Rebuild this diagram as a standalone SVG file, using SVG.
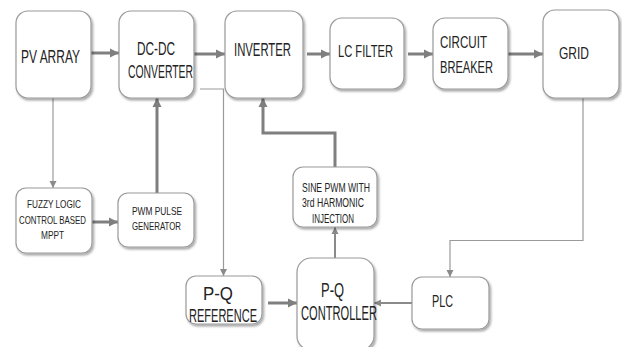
<svg xmlns="http://www.w3.org/2000/svg" width="622" height="347" viewBox="0 0 622 347">
<defs>
<filter id="sh" x="-20%" y="-20%" width="140%" height="140%">
<feDropShadow dx="1.5" dy="2" stdDeviation="1.3" flood-color="#000" flood-opacity="0.35"/>
</filter>
<marker id="ah" markerUnits="userSpaceOnUse" markerWidth="10" markerHeight="10" refX="9" refY="5" orient="auto">
<path d="M0,0.5 L9,5 L0,9.5 Z" fill="#7f7f7f"/>
</marker>
<marker id="as" markerUnits="userSpaceOnUse" markerWidth="8" markerHeight="8" refX="7" refY="4" orient="auto">
<path d="M0,0.5 L7,4 L0,7.5 Z" fill="#8a8a8a"/>
</marker>
</defs>
<style>
.box{fill:#fff;stroke:#9a9a9a;stroke-width:1.2;filter:url(#sh)}
.t{font-family:"Liberation Sans",Arial,sans-serif;fill:#222}
.thick{fill:none;stroke:#7f7f7f;stroke-width:3}
.mid{fill:none;stroke:#8a8a8a;stroke-width:2}
.thin{fill:none;stroke:#9a9a9a;stroke-width:1.2}
</style>
<rect width="622" height="347" fill="#fff"/>
<g id="connectors">
<line class="thick" x1="91" y1="53" x2="119" y2="53" marker-end="url(#ah)"/>
<line class="thick" x1="194" y1="54" x2="225" y2="54" marker-end="url(#ah)"/>
<line class="thick" x1="307" y1="54" x2="330" y2="54" marker-end="url(#ah)"/>
<line class="thick" x1="408" y1="54" x2="433" y2="54" marker-end="url(#ah)"/>
<line class="thick" x1="508" y1="54" x2="543" y2="54" marker-end="url(#ah)"/>
<polyline class="thin" points="200,89 223.5,89 223.5,276" marker-end="url(#as)"/>
<line class="thin" x1="53" y1="98" x2="53" y2="188" marker-end="url(#as)"/>
<line class="thick" x1="92" y1="222" x2="118" y2="222" marker-end="url(#ah)"/>
<line class="thick" x1="157" y1="193" x2="157" y2="98" marker-end="url(#ah)"/>
<line class="thick" x1="268" y1="303" x2="297" y2="303" marker-end="url(#ah)"/>
<line class="mid" x1="335" y1="258" x2="335" y2="227" marker-end="url(#as)"/>
<polyline class="thick" points="335,167 335,133 263,133 263,98" marker-end="url(#ah)"/>
<polyline class="thin" points="583,98 583,240.5 450,240.5 450,277" marker-end="url(#as)"/>
<line class="mid" x1="412" y1="303" x2="374" y2="303" marker-end="url(#as)"/>
</g>
<g id="pv-array">
<rect class="box" x="16" y="11" width="75" height="87" rx="12"/>
<text class="t" x="21" y="63" font-size="18" textLength="59" lengthAdjust="spacingAndGlyphs">PV ARRAY</text>
</g>
<g id="dc-dc-converter">
<rect class="box" x="119" y="11" width="75" height="87" rx="12"/>
<text class="t" x="137" y="55" font-size="18" textLength="38" lengthAdjust="spacingAndGlyphs">DC-DC</text>
<text class="t" x="128" y="78" font-size="18" textLength="65" lengthAdjust="spacingAndGlyphs">CONVERTER</text>
</g>
<g id="inverter">
<rect class="box" x="225" y="11" width="78" height="87" rx="12"/>
<text class="t" x="234" y="56" font-size="18" textLength="57" lengthAdjust="spacingAndGlyphs">INVERTER</text>
</g>
<g id="lc-filter">
<rect class="box" x="330" y="18" width="74" height="71" rx="12"/>
<text class="t" x="338" y="57" font-size="17" textLength="55" lengthAdjust="spacingAndGlyphs">LC FILTER</text>
</g>
<g id="circuit-breaker">
<rect class="box" x="433" y="18" width="75" height="71" rx="12"/>
<text class="t" x="440" y="48" font-size="17" textLength="47" lengthAdjust="spacingAndGlyphs">CIRCUIT</text>
<text class="t" x="440" y="73" font-size="17" textLength="53" lengthAdjust="spacingAndGlyphs">BREAKER</text>
</g>
<g id="grid">
<rect class="box" x="543" y="10" width="76" height="88" rx="12"/>
<text class="t" x="559" y="59" font-size="17" textLength="30" lengthAdjust="spacingAndGlyphs">GRID</text>
</g>
<g id="fuzzy-logic-mppt">
<rect class="box" x="16" y="188" width="76" height="65" rx="10"/>
<text class="t" x="27" y="208" font-size="11" textLength="54" lengthAdjust="spacingAndGlyphs">FUZZY LOGIC</text>
<text class="t" x="19" y="224" font-size="11" textLength="67" lengthAdjust="spacingAndGlyphs">CONTROL BASED</text>
<text class="t" x="41" y="239" font-size="11" textLength="23" lengthAdjust="spacingAndGlyphs">MPPT</text>
</g>
<g id="pwm-pulse-generator">
<rect class="box" x="118" y="193" width="76" height="54" rx="10"/>
<text class="t" x="132" y="215" font-size="11.5" textLength="50" lengthAdjust="spacingAndGlyphs">PWM PULSE</text>
<text class="t" x="132" y="230" font-size="11.5" textLength="49" lengthAdjust="spacingAndGlyphs">GENERATOR</text>
</g>
<g id="pq-reference">
<rect class="box" x="186" y="276" width="76" height="48" rx="10"/>
<text class="t" x="203" y="300" font-size="19" textLength="30" lengthAdjust="spacingAndGlyphs">P-Q</text>
<text class="t" x="189" y="322" font-size="19" textLength="68" lengthAdjust="spacingAndGlyphs">REFERENCE</text>
</g>
<g id="sine-pwm">
<rect class="box" x="293" y="167" width="84" height="60" rx="10"/>
<text class="t" x="302" y="192" font-size="12" textLength="68" lengthAdjust="spacingAndGlyphs">SINE PWM WITH</text>
<text class="t" x="302" y="207" font-size="12" textLength="62" lengthAdjust="spacingAndGlyphs">3rd HARMONIC</text>
<text class="t" x="312" y="223" font-size="12" textLength="42" lengthAdjust="spacingAndGlyphs">INJECTION</text>
</g>
<g id="pq-controller">
<rect class="box" x="297" y="258" width="77" height="92" rx="14"/>
<text class="t" x="321" y="297" font-size="20" textLength="23" lengthAdjust="spacingAndGlyphs">P-Q</text>
<text class="t" x="301" y="320" font-size="20" textLength="76" lengthAdjust="spacingAndGlyphs">CONTROLLER</text>
</g>
<g id="plc">
<rect class="box" x="412" y="277" width="77" height="52" rx="10"/>
<text class="t" x="432" y="307" font-size="16" textLength="21" lengthAdjust="spacingAndGlyphs">PLC</text>
</g>
</svg>
